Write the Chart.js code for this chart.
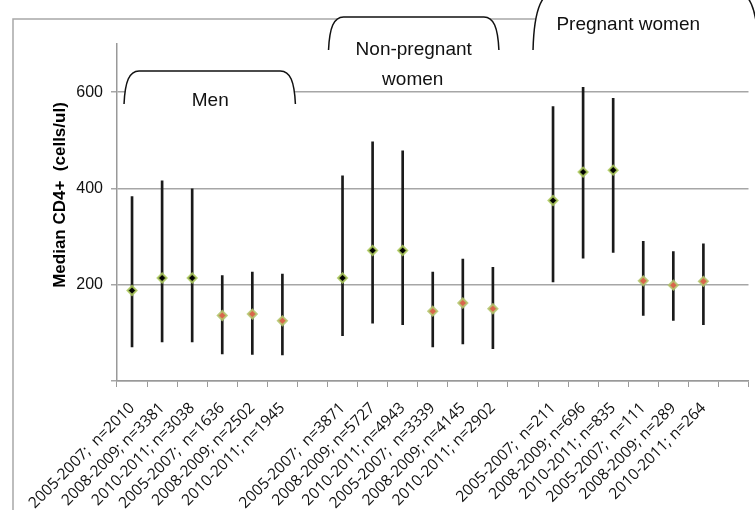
<!DOCTYPE html>
<html>
<head>
<meta charset="utf-8">
<script src="https://cdn.jsdelivr.net/npm/chart.js@4"></script>
<style>
  html, body { margin: 0; padding: 0; background: #fff; }
  #wrap { width: 755px; height: 510px; }
</style>
</head>
<body>
<div id="wrap"><canvas id="chart" width="755" height="510"></canvas></div>
<script>
// ===== data =====
const categories = [
  '2005-2007;  n=2010', '2008-2009; n=3381', '2010-2011; n=3038',
  '2005-2007;  n=1636', '2008-2009; n=2502', '2010-2011; n=1945',
  '',
  '2005-2007;  n=3871', '2008-2009; n=5727', '2010-2011; n=4943',
  '2005-2007;  n=3339', '2008-2009; n=4145', '2010-2011; n=2902',
  '',
  '2005-2007;  n=211', '2008-2009; n=696', '2010-2011; n=835',
  '2005-2007;  n=111', '2008-2009; n=289', '2010-2011; n=264',
  ''
];

// medians (black markers / red markers)
const medianBlack = [188, 214, 214, null, null, null, null,
                     214, 271, 271, null, null, null, null,
                     375, 434, 438, null, null, null, null];
const medianRed   = [null, null, null, 136, 139, 125, null,
                     null, null, null, 145, 162, 150, null,
                     null, null, null, 208, 199, 207, null];

// range bars
const rangeLow  = [71, 81, 81, 56, 55, 54, null,
                   94, 120, 117, 71, 77, 67, null,
                   206, 255, 267, 136, 126, 117, null];
const rangeHigh = [383, 416, 399, 219, 226, 222, null,
                   426, 497, 478, 226, 253, 236, null,
                   570, 610, 587, 290, 269, 285, null];

const yTicks = [0, 200, 400, 600];
const groupNames = [['Men'], ['Non-pregnant', 'women'], ['Pregnant women']];

// ===== decorations: frame, braces, titles =====
function bracePath(ctx, x1, x2, yt, yb, r) {
  ctx.moveTo(x1, yb);
  ctx.bezierCurveTo(x1 + 1, yt + r * 0.7, x1 + r * 0.35, yt, x1 + r, yt);
  ctx.lineTo(x2 - r, yt);
  ctx.bezierCurveTo(x2 - r * 0.35, yt, x2 - 1, yt + r * 0.7, x2, yb);
}

function brace(ctx, x1, x2, yt, yb, r) {
  ctx.beginPath();
  bracePath(ctx, x1, x2, yt, yb, r);
  ctx.closePath();
  ctx.fillStyle = '#fff';
  ctx.fill();

  ctx.beginPath();
  bracePath(ctx, x1, x2, yt, yb, r);
  ctx.strokeStyle = '#111';
  ctx.lineWidth = 1.5;
  ctx.stroke();
}

const decor = {
  id: 'decor',
  afterDraw(chart) {
    const ctx = chart.ctx;
    const xs = chart.scales.x;
    const gx = i => xs.getPixelForValue(i);
    ctx.save();

    // outer frame
    ctx.strokeStyle = '#a8a8a8';
    ctx.lineWidth = 1.5;
    ctx.beginPath();
    ctx.moveTo(13, 510);
    ctx.lineTo(13, 19);
    ctx.lineTo(755, 19);
    ctx.stroke();

    // braces
    brace(ctx, gx(0) - 8, gx(5) + 13, 71, 104, 15);
    brace(ctx, gx(7) - 14, gx(12) + 6, 17, 50, 15);
    brace(ctx, gx(14) - 20, gx(20) + 25, -10, 50, 26);

    // group labels
    ctx.fillStyle = '#111';
    ctx.font = '19px "Liberation Sans", Arial, sans-serif';
    ctx.textAlign = 'center';
    ctx.textBaseline = 'middle';
    ctx.fillText(groupNames[0][0], (gx(0) + gx(5)) / 2 + 3, 101);
    ctx.fillText(groupNames[1][0], (gx(7) + gx(12)) / 2 - 4, 50);
    ctx.fillText(groupNames[1][1], (gx(7) + gx(12)) / 2 - 5, 80);
    ctx.fillText(groupNames[2][0], (gx(14) + gx(19)) / 2, 25);

    // y title
    ctx.translate(60, 195);
    ctx.rotate(-Math.PI / 2);
    ctx.font = 'bold 17px "Liberation Sans", Arial, sans-serif';
    ctx.fillStyle = '#000';
    ctx.fillText('Median CD4+  (cells/ul)', 0, 0);
    ctx.restore();
  }
};

// ===== chart =====
function initChart() {
  const ctx = document.getElementById('chart');

  new Chart(ctx, {
    data: {
      labels: categories,
      datasets: [
        {
          type: 'line',
          label: 'median A',
          data: medianBlack,
          showLine: false,
          pointStyle: 'rectRot',
          pointRadius: 4.5,
          pointBackgroundColor: '#000',
          pointBorderColor: 'rgba(175,205,95,0.85)',
          pointBorderWidth: 2,
          order: 1
        },
        {
          type: 'line',
          label: 'median B',
          data: medianRed,
          showLine: false,
          pointStyle: 'rectRot',
          pointRadius: 4.5,
          pointBackgroundColor: '#d9644c',
          pointBorderColor: 'rgba(180,200,110,0.85)',
          pointBorderWidth: 2,
          order: 1
        },
        {
          type: 'bar',
          label: 'range',
          data: rangeLow.map((v, i) => v === null ? null : [v, rangeHigh[i]]),
          backgroundColor: '#1a1a1a',
          barThickness: 2,
          order: 3
        }
      ]
    },
    options: {
      responsive: false,
      animation: false,
      layout: { padding: { top: 44, right: 6, left: 0, bottom: 0 } },
      plugins: {
        legend: { display: false },
        tooltip: { enabled: false }
      },
      scales: {
        x: {
          type: 'category',
          offset: true,
          grid: {
            offset: true,
            drawOnChartArea: false,
            color: '#999',
            tickLength: 6
          },
          border: { color: '#999', width: 1.5 },
          ticks: {
            autoSkip: false,
            maxRotation: 45,
            minRotation: 45,
            padding: 12,
            color: '#111',
            font: { family: '"Open Sans", sans-serif', size: 15.5 }
          },
          afterFit(scale) {
            scale.height = 129;
            scale.paddingLeft = 0;
            scale.paddingRight = 0;
          }
        },
        y: {
          min: 0,
          max: 700,
          afterBuildTicks(scale) { scale.ticks = yTicks.map(v => ({ value: v })); },
          grid: {
            color: '#a6a6a6',
            lineWidth: 1.5,
            tickLength: 6
          },
          border: { color: '#999', width: 1.5 },
          ticks: {
            padding: 8,
            color: '#111',
            font: { family: '"Liberation Sans", Arial, sans-serif', size: 16 },
            callback: v => v === 0 ? '' : v
          },
          afterFit(scale) { scale.width = 117; }
        }
      }
    },
    plugins: [decor]
  });
}

window.onload = initChart;
</script>
</body>
</html>
